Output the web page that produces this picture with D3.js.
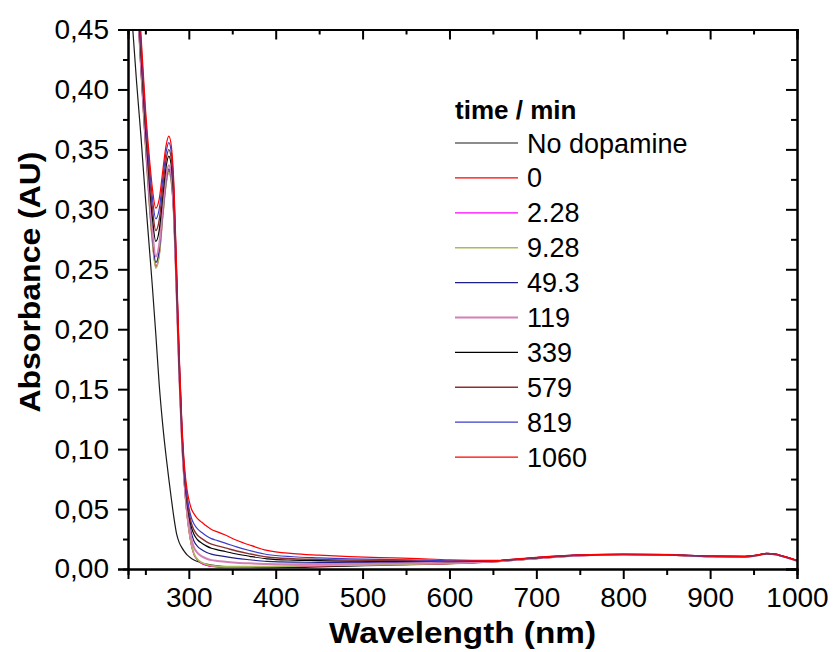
<!DOCTYPE html>
<html>
<head>
<meta charset="utf-8">
<script src="https://cdn.jsdelivr.net/npm/d3@7"></script>
<style>
  body { margin: 0; background: #fff; }
  text { font-family: "Liberation Sans", Arial, sans-serif; fill: #000; }
</style>
</head>
<body>
<svg id="chart" width="835" height="652"></svg>
<script>
(function (d3) {
  'use strict';

  // wavelength grid (nm)
  const wavelength = [230,235,240,245,250,255,258,262,266,270,274,277,280,283,286,289,292,295,298,300,
    303,306,310,315,320,326,333,342,355,370,390,420,450,485,520,555,600,650,700,750,
    800,850,900,940,955,965,975,990,1000];

  // absorbance (AU), one array per spectrum
  const absNoDopamine = [.51,.455,.405,.36,.31,.264,.236,.196,.153,.12,.093,.075,.058,.042,.029,.022,.0178,.0145,.0118,.0105,
    .0088,.0075,.0062,.005,.004,.0033,.0027,.0021,.0016,.0013,.0012,.0013,.0018,.0024,.003,.0036,.0044,.006,.0087,.0111,
    .0118,.0116,.0103,.0101,.0113,.0126,.012,.009,.0067];
  const abs0 = [.741,.601,.491,.416,.356,.301,.275,.2525,.263,.295,.323,.332,.323,.291,.227,.1605,.1075,.07,.045,.033,
    .02,.012,.0075,.0047,.0032,.0022,.0017,.0015,.0015,.0016,.0018,.0022,.0026,.003,.0034,.0038,.0045,.0061,.0087,.0111,
    .0118,.0116,.0103,.0101,.0113,.0126,.012,.009,.0067];
  const abs2_28 = [.740,.600,.490,.415,.355,.300,.2745,.2515,.2625,.2944,.3223,.3313,.3223,.2903,.2262,.1602,.1072,.0701,.0451,.0331,
    .0201,.0121,.0076,.0048,.0033,.0023,.0018,.0016,.0016,.0017,.0019,.0023,.0028,.0032,.0036,.004,.0046,.0062,.0088,.0112,
    .0119,.0117,.0104,.0102,.0114,.0127,.0121,.0091,.0068];
  const abs9_28 = [.74,.60,.49,.415,.355,.30,.274,.251,.262,.294,.322,.331,.322,.29,.226,.16,.107,.0703,.0454,.0335,
    .0206,.0127,.0082,.0054,.0039,.0028,.0023,.002,.002,.002,.0021,.0024,.0029,.0032,.0036,.004,.0047,.0062,.0088,.0112,
    .0119,.0117,.0104,.0102,.0114,.0127,.0121,.0091,.0068];
  const abs49_3 = [.744,.603,.493,.418,.358,.304,.278,.2557,.2664,.2976,.325,.3338,.3248,.2926,.2283,.1617,.1084,.0753,.0519,.0413,
    .0299,.0232,.0189,.016,.014,.0124,.0114,.0103,.0089,.0077,.0063,.0057,.0056,.0055,.0055,.0056,.0056,.0065,.0091,.0114,
    .0121,.0118,.0105,.0103,.0115,.0128,.0122,.0092,.0069];
  const abs119 = [.7478,.6058,.4958,.4208,.3608,.3078,.2825,.2607,.2711,.3014,.3282,.3368,.3278,.2954,.2307,.1635,.1099,.0727,.0486,.0373,
    .0251,.0178,.0134,.0105,.0088,.0074,.0067,.0061,.0053,.0047,.0041,.004,.0042,.0043,.0045,.0048,.0051,.0064,.009,.0113,
    .012,.0118,.0105,.0103,.0115,.0128,.0122,.0092,.0069];
  const abs339 = [.7578,.6133,.5033,.4283,.3683,.3178,.2935,.2732,.2829,.3109,.3362,.3443,.3353,.3024,.2367,.168,.1137,.0778,.0553,.0453,
    .0347,.0287,.0244,.0215,.0193,.0173,.016,.0146,.0125,.0106,.0085,.0074,.007,.0066,.0064,.0064,.0061,.0067,.0093,.0115,
    .0121,.0119,.0106,.0104,.0116,.0129,.0123,.0093,.007];
  const abs579 = [.7651,.6188,.5088,.4338,.3738,.3251,.3016,.2824,.2915,.3179,.3421,.3498,.3408,.3076,.2411,.1713,.1164,.0796,.0576,.048,
    .038,.0324,.0282,.0253,.0229,.0207,.0193,.0176,.015,.0126,.01,.0086,.008,.0074,.0071,.0069,.0065,.0068,.0094,.0116,
    .0122,.0119,.0106,.0104,.0116,.0129,.0123,.0093,.007];
  const abs819 = [.7729,.6247,.5147,.4397,.3797,.3329,.3102,.2921,.3006,.3252,.3483,.3557,.3467,.313,.2457,.1748,.1193,.082,.0608,.0518,
    .0425,.0375,.0334,.0304,.0278,.0253,.0237,.0216,.0184,.0154,.0121,.0102,.0093,.0085,.008,.0077,.0069,.007,.0096,.0117,
    .0123,.012,.0107,.0105,.0117,.013,.0124,.0094,.0071];
  const abs1060 = [.78,.63,.52,.445,.385,.34,.318,.301,.309,.332,.354,.361,.352,.318,.25,.178,.122,.086,.066,.058,
    .05,.046,.042,.039,.036,.033,.031,.0283,.024,.020,.0155,.0128,.0115,.0103,.0095,.0089,.0077,.0072,.0098,.0118,
    .0124,.0121,.0108,.0106,.0118,.0131,.0125,.0095,.0072];

  const seriesNames = ['No dopamine','0','2.28','9.28','49.3','119','339','579','819','1060'];
  const seriesColors = ['#1a1a1a','#ff0000','#ff00ff','#a9ba5a','#1e1e8c','#d47fb5','#000000','#8b3030','#3c3cc8','#ff0000'];
  const seriesWidths = [1.2,1.2,1.2,1.6,1.2,2,1.2,1.4,1.2,1.2];
  const seriesValues = [absNoDopamine,abs0,abs2_28,abs9_28,abs49_3,abs119,abs339,abs579,abs819,abs1060];

  const xTicks = [300,400,500,600,700,800,900,1000];
  const xMinor = [250,350,450,550,650,750,850,950];
  const yTicks = [0,0.05,0.10,0.15,0.20,0.25,0.30,0.35,0.40,0.45];
  const yMinor = [0.025,0.075,0.125,0.175,0.225,0.275,0.325,0.375,0.425];

  const series = seriesNames.map((name, i) => ({
    name,
    color: seriesColors[i],
    width: seriesWidths[i],
    points: wavelength.map((w, j) => ({ w, a: seriesValues[i][j] }))
  }));

  const svg = d3.select('#chart');
  const left = 128, right = 797, top = 29.5, bottom = 569;

  const x = d3.scaleLinear().domain([230, 1000]).range([left, right]);
  const y = d3.scaleLinear().domain([0, 0.45]).range([bottom, top]);

  svg.append('defs').append('clipPath').attr('id', 'plotClip')
    .append('rect').attr('x', left).attr('y', top).attr('width', right - left).attr('height', bottom - top);

  const line = d3.line()
    .x(d => x(d.w))
    .y(d => y(d.a))
    .curve(d3.curveMonotoneX);

  svg.append('g').attr('clip-path', 'url(#plotClip)')
    .selectAll('path')
    .data(series)
    .enter()
    .append('path')
    .attr('fill', 'none')
    .attr('stroke', s => s.color)
    .attr('stroke-width', s => s.width)
    .attr('d', s => line(s.points));

  const fmt = v => d3.format('.2f')(v).replace('.', ',');

  const styleAxis = g => {
    g.select('.domain').attr('stroke', '#000').attr('stroke-width', 2);
    g.selectAll('.tick line').attr('stroke', '#000').attr('stroke-width', 2);
    g.selectAll('.tick text').style('font-size', '28px').style('font-family', '"Liberation Sans", Arial, sans-serif');
  };

  // left axis
  svg.append('g').attr('transform', `translate(${left},0)`)
    .call(d3.axisLeft(y).tickValues(yMinor).tickSize(5).tickFormat(''))
    .call(styleAxis);
  svg.append('g').attr('transform', `translate(${left},0)`)
    .call(d3.axisLeft(y).tickValues(yTicks).tickSize(10).tickPadding(9).tickFormat(fmt))
    .call(styleAxis);

  // right axis (inward ticks)
  svg.append('g').attr('transform', `translate(${right},0)`)
    .call(d3.axisLeft(y).tickValues(yMinor).tickSize(6).tickFormat(''))
    .call(styleAxis);
  svg.append('g').attr('transform', `translate(${right},0)`)
    .call(d3.axisLeft(y).tickValues(yTicks).tickSize(11).tickFormat(''))
    .call(styleAxis);

  // bottom axis
  svg.append('g').attr('transform', `translate(0,${bottom})`)
    .call(d3.axisBottom(x).tickValues(xMinor).tickSize(6).tickFormat(''))
    .call(styleAxis);
  svg.append('g').attr('transform', `translate(0,${bottom})`)
    .call(d3.axisBottom(x).tickValues(xTicks).tickSize(10).tickPadding(8).tickFormat(d3.format('d')))
    .call(styleAxis);

  // top axis (inward ticks)
  svg.append('g').attr('transform', `translate(0,${top})`)
    .call(d3.axisBottom(x).tickValues(xMinor).tickSize(5).tickFormat(''))
    .call(styleAxis);
  svg.append('g').attr('transform', `translate(0,${top})`)
    .call(d3.axisBottom(x).tickValues(xTicks).tickSize(10).tickFormat(''))
    .call(styleAxis);

  // axis titles
  svg.append('text')
    .attr('x', (left + right) / 2)
    .attr('y', 643)
    .attr('text-anchor', 'middle')
    .attr('textLength', 267)
    .attr('lengthAdjust', 'spacingAndGlyphs')
    .style('font-size', '29px')
    .style('font-weight', 'bold')
    .text('Wavelength (nm)');

  svg.append('text')
    .attr('transform', 'translate(40,282) rotate(-90)')
    .attr('text-anchor', 'middle')
    .attr('textLength', 261)
    .attr('lengthAdjust', 'spacingAndGlyphs')
    .style('font-size', '29px')
    .style('font-weight', 'bold')
    .text('Absorbance (AU)');

  // legend
  const legend = svg.append('g').attr('transform', 'translate(455,0)');
  legend.append('text')
    .attr('x', 0).attr('y', 119)
    .style('font-size', '26px')
    .style('font-weight', 'bold')
    .text('time / min');

  const rows = legend.selectAll('g.row')
    .data(series)
    .enter()
    .append('g')
    .attr('class', 'row')
    .attr('transform', (s, i) => `translate(0,${143 + i * 34.9})`);
  rows.append('line')
    .attr('x1', 0).attr('x2', 63)
    .attr('stroke', s => s.color)
    .attr('stroke-width', s => s.width);
  rows.append('text')
    .attr('x', 72).attr('y', 9.5)
    .style('font-size', '27px')
    .text(s => s.name);

}(d3));
</script>
</body>
</html>
